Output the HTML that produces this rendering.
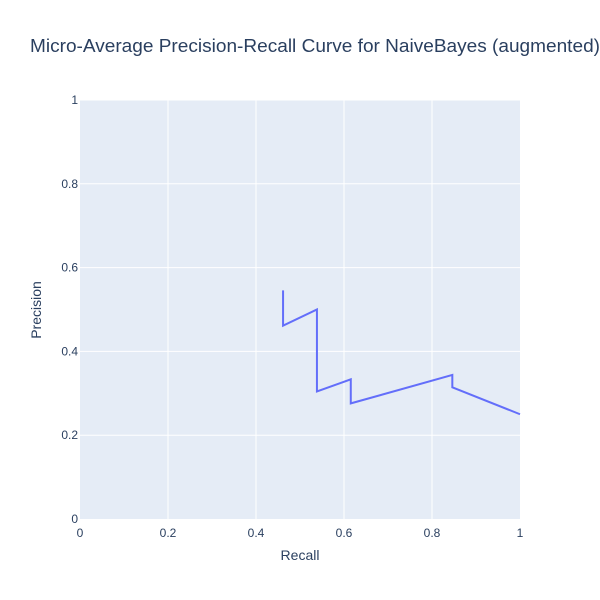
<!DOCTYPE html>
<html><head><meta charset="utf-8"><style>body{margin:0;background:#fff}svg{display:block;font-family:"Liberation Sans",sans-serif}</style></head>
<body>
<svg id="chart" width="600" height="600">
<rect x="0" y="0" width="600" height="600" fill="#fff"/>
<rect x="80" y="100" width="440" height="419" fill="#e5ecf6"/>
<g id="grid"></g><g id="ticks"></g>
<path id="line" fill="none" stroke="#636efa" stroke-width="2"/>
<text x="315" y="52" text-anchor="middle" font-size="18" fill="#2a3f5f" textLength="570" lengthAdjust="spacingAndGlyphs">Micro-Average Precision-Recall Curve for NaiveBayes (augmented)</text>
<text x="300" y="560" text-anchor="middle" font-size="14" fill="#2a3f5f">Recall</text>
<text transform="translate(41,310) rotate(-90)" text-anchor="middle" font-size="14" fill="#2a3f5f">Precision</text>
</svg>
<script>
const recall=[0.4615,0.4615,0.5385,0.5385,0.6154,0.6154,0.8462,0.8462,1];
const precision=[0.5455,0.4615,0.5,0.3043,0.3333,0.2759,0.3438,0.3143,0.25];
const xTicks=[0,0.2,0.4,0.6,0.8,1];
const yTicks=[0,0.2,0.4,0.6,0.8,1];
const xTickLabels=["0","0.2","0.4","0.6","0.8","1"];
const yTickLabels=["0","0.2","0.4","0.6","0.8","1"];
const X=v=>80+v*440, Y=v=>519-v*419;
const ns="http://www.w3.org/2000/svg";
const grid=document.getElementById('grid'), ticks=document.getElementById('ticks');
xTicks.forEach((t,i)=>{
 if(t>0&&t<1){const l=document.createElementNS(ns,'line');l.setAttribute('x1',X(t));l.setAttribute('x2',X(t));l.setAttribute('y1',100);l.setAttribute('y2',519);l.setAttribute('stroke','#fff');
 
 
 grid.appendChild(l);}
 const tx=document.createElementNS(ns,'text');tx.setAttribute('x',X(t));tx.setAttribute('y',537);tx.setAttribute('text-anchor','middle');tx.setAttribute('font-size','12');tx.setAttribute('fill','#2a3f5f');tx.textContent=xTickLabels[i];
 
 
 ticks.appendChild(tx);
});
yTicks.forEach((t,i)=>{
 if(t>0){const l=document.createElementNS(ns,'line');l.setAttribute('x1',80);l.setAttribute('x2',520);l.setAttribute('y1',Y(t));l.setAttribute('y2',Y(t));l.setAttribute('stroke','#fff');
 
 
 grid.appendChild(l);}
 const tx=document.createElementNS(ns,'text');tx.setAttribute('x',78);tx.setAttribute('y',Y(t)+4);tx.setAttribute('text-anchor','end');tx.setAttribute('font-size','12');tx.setAttribute('fill','#2a3f5f');tx.textContent=yTickLabels[i];
 
 
 ticks.appendChild(tx);
});
document.getElementById('line').setAttribute('d',recall.map((r,i)=>(i?'L':'M')+X(r)+','+Y(precision[i])).join(''));
</script>
</body></html>
